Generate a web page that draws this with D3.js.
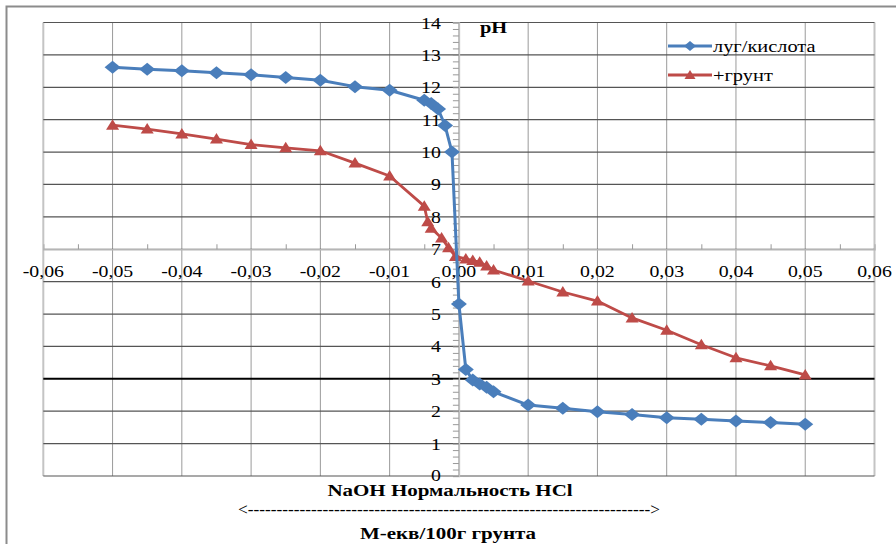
<!DOCTYPE html>
<html><head><meta charset="utf-8">
<script src="https://cdn.jsdelivr.net/npm/d3@7"></script>
<style>body{margin:0;background:#fff}svg{display:block}text{font-family:"Liberation Serif","DejaVu Serif","Times New Roman",serif}</style>
</head><body>
<script>
const xBlue = [-0.05,-0.045,-0.04,-0.035,-0.03,-0.025,-0.02,-0.015,-0.01,-0.005,-0.004,-0.003,-0.002,-0.001,0,0.001,0.002,0.003,0.004,0.005,0.01,0.015,0.02,0.025,0.03,0.035,0.04,0.045,0.05];
const pHBlue = [12.62,12.56,12.51,12.45,12.39,12.3,12.22,12.02,11.91,11.6,11.5,11.33,10.82,10.0,5.31,3.29,2.96,2.84,2.74,2.6,2.19,2.09,1.98,1.9,1.8,1.75,1.7,1.65,1.6];
const xRed = [-0.05,-0.045,-0.04,-0.035,-0.03,-0.025,-0.02,-0.015,-0.01,-0.005,-0.0045,-0.004,-0.0025,-0.0015,-0.0005,0.001,0.002,0.003,0.004,0.005,0.01,0.015,0.02,0.025,0.03,0.035,0.04,0.045,0.05];
const pHRed = [10.83,10.71,10.56,10.4,10.23,10.13,10.04,9.66,9.26,8.33,7.85,7.65,7.35,7.05,6.78,6.7,6.65,6.6,6.48,6.36,6.02,5.68,5.4,4.88,4.5,4.05,3.65,3.4,3.12];
const seriesNames = ["луг/кислота", "+грунт"];
const xTicks = [-0.06,-0.05,-0.04,-0.03,-0.02,-0.01,0,0.01,0.02,0.03,0.04,0.05,0.06];
const yTicks = [0,1,2,3,4,5,6,7,8,9,10,11,12,13,14];
const yTitle = "pH";
const xTitle1 = "NaOH Нормальность HCl";
const xTitle2 = "М-екв/100г грунта";

const W = 896, H = 544;
const SX = 1.2;
const svg = d3.select("body").append("svg").attr("width", W).attr("height", H);
const x = d3.scaleLinear().domain([-0.06, 0.06]).range([43.3, 874.5]);
const y = d3.scaleLinear().domain([0, 14]).range([476, 22.5]);

function stext(g, tx, ty, str, opts) {
  opts = opts || {};
  return g.append("text")
    .attr("transform", `translate(${tx},${ty}) scale(${opts.sx || SX},1)`)
    .attr("text-anchor", opts.anchor || "middle")
    .attr("font-size", opts.size || 16.5)
    .attr("font-weight", opts.weight || "normal")
    .attr("fill", "#000")
    .text(str);
}

// outer chart border
svg.append("rect").attr("x", 6.5).attr("y", 6.5).attr("width", 1000).attr("height", 1000)
  .attr("fill", "none").attr("stroke", "#8c8c8c").attr("stroke-width", 2);

// vertical gridlines
svg.append("g").selectAll("line").data(xTicks).join("line")
  .attr("x1", d => x(d)).attr("x2", d => x(d))
  .attr("y1", y(14)).attr("y2", y(0))
  .attr("stroke", d => (d === -0.06 || d === 0.06) ? "#c4c4c4" : "#9a9a9a")
  .attr("stroke-width", d => (d === -0.06 || d === 0.06) ? 2 : 1);

// horizontal gridlines
svg.append("g").selectAll("line").data(yTicks).join("line")
  .attr("x1", x(-0.06)).attr("x2", x(0.06))
  .attr("y1", d => y(d)).attr("y2", d => y(d))
  .attr("stroke", d => d === 3 ? "#000" : "#555")
  .attr("stroke-width", d => d === 3 ? 2 : 1.2);

// x axis at pH 7
const xAxis = d3.axisTop(x).tickValues(d3.range(-0.055, 0.06, 0.01)).tickSize(5).tickFormat("");
const gx = svg.append("g").attr("transform", `translate(0,${y(7)})`).call(xAxis);
gx.select(".domain").attr("stroke", "#b5b5b5").attr("stroke-width", 1.5);
gx.selectAll(".tick line").attr("stroke", "#999");

// y axis at x = 0
const yAxis = d3.axisLeft(y).tickValues(d3.range(0, 14.01, 0.2)).tickSize(6).tickFormat("");
const gy = svg.append("g").attr("transform", `translate(${x(0)},0)`).call(yAxis);
gy.select(".domain").attr("stroke", "#c0c0c0").attr("stroke-width", 1.5);
gy.selectAll(".tick line").attr("stroke", "#999");

// tick labels
const lab = svg.append("g");
xTicks.forEach(d => {
  const s = (d < 0 ? "-" : "") + Math.abs(d).toFixed(2).replace(".", ",");
  stext(lab, x(d), y(7) + 28, s);
});
yTicks.forEach(d => {
  stext(lab, x(0) - 18, y(d) + (d === 0 ? 4.5 : 6), String(d), {anchor: "end"});
});

// series
const blue = "#4a7ebb", red = "#be4b48";
const blueData = xBlue.map((v, i) => [v, pHBlue[i]]);
const redData = xRed.map((v, i) => [v, pHRed[i]]);
const line = d3.line().x(d => x(d[0])).y(d => y(d[1]));

svg.append("path").datum(redData).attr("d", line).attr("fill", "none")
  .attr("stroke", red).attr("stroke-width", 2.8).attr("stroke-linejoin", "round");
svg.append("g").selectAll("path").data(redData).join("path")
  .attr("transform", d => `translate(${x(d[0])},${y(d[1])})`)
  .attr("d", "M0,-6L6.5,4.5L-6.5,4.5Z").attr("fill", red);

svg.append("path").datum(blueData).attr("d", line).attr("fill", "none")
  .attr("stroke", blue).attr("stroke-width", 3).attr("stroke-linejoin", "round");
svg.append("g").selectAll("path").data(blueData).join("path")
  .attr("transform", d => `translate(${x(d[0])},${y(d[1])})`)
  .attr("d", "M0,-6.5L8,0L0,6.5L-8,0Z").attr("fill", blue);

// titles
stext(svg, 480, 33, yTitle, {anchor: "start", weight: "bold", size: 17});
stext(svg, 450, 496, xTitle1, {weight: "bold", size: 17.5});
const arrow = "<" + "-".repeat(70) + ">";
svg.append("text").attr("x", 238).attr("y", 515).attr("font-size", 16)
  .attr("textLength", 422).attr("lengthAdjust", "spacingAndGlyphs").text(arrow);
stext(svg, 448, 539, xTitle2, {weight: "bold", size: 17.5});

// legend
const leg = svg.append("g");
[[blue, "diamond", 46], [red, "triangle", 75]].forEach((c, i) => {
  leg.append("line").attr("x1", 668).attr("x2", 712).attr("y1", c[2]).attr("y2", c[2])
    .attr("stroke", c[0]).attr("stroke-width", 3);
  leg.append("path").attr("transform", `translate(690,${c[2]})`)
    .attr("d", c[1] === "diamond" ? "M0,-5L6,0L0,5L-6,0Z" : "M0,-5L5.5,4L-5.5,4Z")
    .attr("fill", c[0]);
  stext(leg, 713, c[2] + 6, seriesNames[i], {anchor: "start", size: 17});
});
</script>
</body></html>
